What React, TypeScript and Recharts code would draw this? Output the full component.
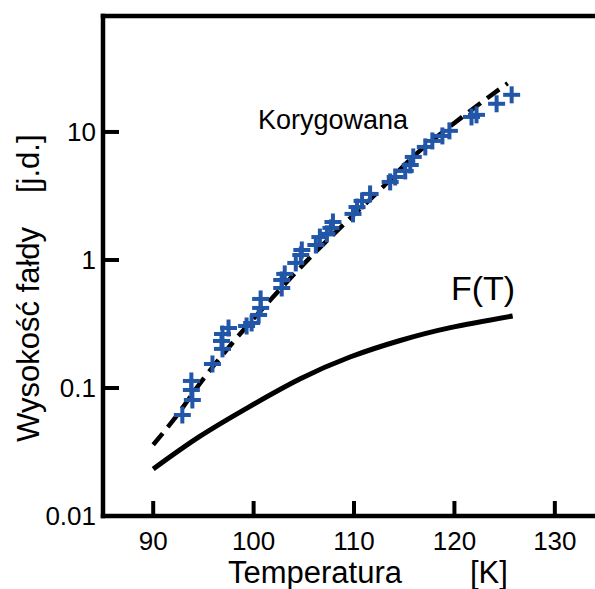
import { ComposedChart, Line, Scatter, XAxis, YAxis, ReferenceLine } from "recharts"

// measured points (crosses)
const measuredT = [
  92.9, 93.9, 93.8, 93.8, 95.9, 96.9, 96.8, 96.9, 97.5, 99.3, 99.8, 100.5, 100.7, 100.7,
  102.8, 102.8, 103.1, 104.2, 104.7, 104.8, 106.2, 106.6, 107.3, 107.7, 107.9, 109.9,
  110.3, 110.8, 111.6, 113.6, 114.1, 115.1, 115.6, 115.9, 117.1, 117.8, 118.8, 119.5,
  121.7, 122.2, 124.2, 125.7,
]
const measuredH = [
  0.0615, 0.0806, 0.0965, 0.1135, 0.154, 0.202, 0.233, 0.264, 0.294, 0.305, 0.322, 0.372,
  0.422, 0.496, 0.604, 0.698, 0.778, 0.948, 1.094, 1.197, 1.309, 1.51, 1.6, 1.78, 1.98,
  2.29, 2.59, 2.89, 3.28, 4.07, 4.45, 4.96, 5.52, 6.38, 7.64, 8.51, 9.31, 10.2, 13.1, 13.6,
  16.6, 19.5,
]

// dashed "Korygowana" curve
const corrT = [90, 92, 95, 98, 102, 106, 108, 113, 115.5, 120.5, 125.3]
const corrH = [0.036, 0.056, 0.118, 0.23, 0.52, 1.12, 1.6, 3.8, 6.0, 12.6, 24]

// solid F(T) curve
const fT = [90, 94.6, 99.6, 104.6, 109.6, 114.6, 119.6, 125.8]
const fH = [0.0233, 0.0417, 0.0716, 0.1175, 0.1746, 0.235, 0.296, 0.365]

const xTicks = [90, 100, 110, 120, 130]
const yTicks = [0.01, 0.1, 1, 10]
const xDomain = [85, 134]
const yDomain = [0.01, 80.5]

const measured = measuredT.map((t, i) => ({ t, h: measuredH[i] }))
const corrected = corrT.map((t, i) => ({ t, h: corrH[i] }))
const fCurve = fT.map((t, i) => ({ t, h: fH[i] }))

const FONT = "'Liberation Sans', Arial, sans-serif"
const BLUE = "#2256a8"

const Plus = (props: any) => {
  const { cx, cy } = props
  if (cx == null || cy == null) return null
  return (
    <g stroke={BLUE} strokeWidth={4}>
      <line x1={cx - 8.5} x2={cx + 8.5} y1={cy} y2={cy} />
      <line x1={cx} x2={cx} y1={cy - 8.5} y2={cy + 8.5} />
    </g>
  )
}

const XTick = (props: any) => {
  const { x, y, payload } = props
  return (
    <g>
      <line x1={x} x2={x} y1={y} y2={y - 15} stroke="#000" strokeWidth={4} />
      <text x={x} y={y + 34} textAnchor="middle" fontSize={26} fontFamily={FONT} fill="#000">
        {payload.value}
      </text>
    </g>
  )
}

const YTick = (props: any) => {
  const { x, y, payload } = props
  return (
    <g>
      <line x1={x} x2={x + 16} y1={y} y2={y} stroke="#000" strokeWidth={4} />
      <text x={x - 7} y={y + 9} textAnchor="end" fontSize={26} fontFamily={FONT} fill="#000">
        {payload.value}
      </text>
    </g>
  )
}

const frame = { stroke: "#000", strokeWidth: 4.5, strokeLinecap: "square" as const, ifOverflow: "visible" as const }

export default function App() {
  return (
    <div style={{ position: "absolute", left: 0, top: 0, width: 595, height: 589, background: "#fff" }}>
      <ComposedChart width={595} height={589} margin={{ top: 16, right: 0, left: 0, bottom: 0 }}>
        <XAxis
          dataKey="t"
          type="number"
          domain={xDomain}
          allowDataOverflow
          ticks={xTicks}
          height={73}
          tickSize={0}
          tickMargin={0}
          tickLine={false}
          axisLine={false}
          tick={<XTick />}
        />
        <YAxis
          dataKey="h"
          type="number"
          scale="log"
          domain={yDomain}
          allowDataOverflow
          ticks={yTicks}
          width={103}
          tickSize={0}
          tickMargin={0}
          tickLine={false}
          axisLine={false}
          tick={<YTick />}
        />
        <ReferenceLine x={xDomain[0]} {...frame} />
        <ReferenceLine y={yDomain[0]} {...frame} />
        <ReferenceLine y={yDomain[1]} {...frame} />
        <Line
          data={fCurve}
          dataKey="h"
          type="natural"
          dot={false}
          stroke="#000"
          strokeWidth={5}
          isAnimationActive={false}
        />
        <Line
          data={corrected}
          dataKey="h"
          type="monotone"
          dot={false}
          stroke="#000"
          strokeWidth={4.5}
          strokeDasharray="15 8"
          isAnimationActive={false}
        />
        <Scatter data={measured} dataKey="h" shape={<Plus />} isAnimationActive={false} />
        <text x={258} y={129} fontSize={27} fontFamily={FONT} fill="#000">
          Korygowana
        </text>
        <text x={451} y={300} fontSize={34} fontFamily={FONT} fill="#000">
          F(T)
        </text>
        <text x={228} y={583} fontSize={31} fontFamily={FONT} fill="#000">
          Temperatura
        </text>
        <text x={470} y={583} fontSize={31} fontFamily={FONT} fill="#000">
          [K]
        </text>
        <text x={39} y={442} fontSize={31} fontFamily={FONT} fill="#000" transform="rotate(-90, 39, 442)">
          Wysokość fałdy
        </text>
        <text x={39} y={193} fontSize={31} fontFamily={FONT} fill="#000" transform="rotate(-90, 39, 193)">
          [j.d.]
        </text>
      </ComposedChart>
    </div>
  )
}
